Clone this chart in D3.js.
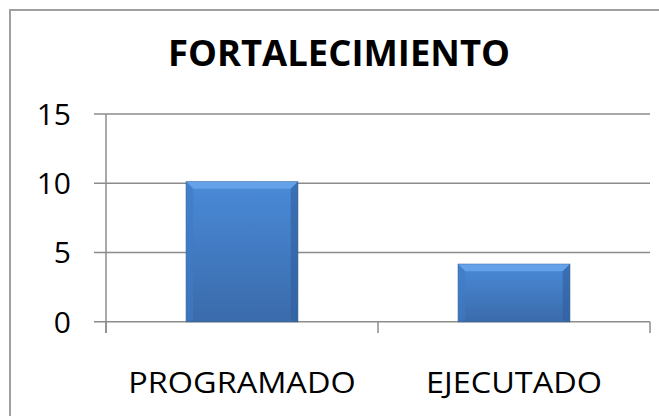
<!DOCTYPE html>
<html>
<head>
<meta charset="utf-8">
<script src="https://cdn.jsdelivr.net/npm/d3@7"></script>
<style>
  body { margin: 0; background: #fff; }
  text { font-family: "Open Sans", sans-serif; fill: #000; }
</style>
</head>
<body>
<svg id="chart" width="659" height="416"></svg>
<script>
// data
var categories = ['PROGRAMADO', 'EJECUTADO'];
var values = [10.1, 4.15];
var yTicks = [0, 5, 10, 15];
var title = 'FORTALECIMIENTO';

var svg = d3.select('#chart');

var x = d3.scaleBand()
  .domain(categories)
  .range([106, 650])
  .paddingInner(0.59)
  .paddingOuter(0.295);

var y = d3.scaleLinear()
  .domain([0, 15])
  .range([321.7, 114]);

// chart border (only top and left visible, rest is cropped)
svg.append('rect')
  .attr('x', 10).attr('y', 10)
  .attr('width', 700).attr('height', 450)
  .attr('fill', 'none')
  .attr('stroke', '#a0a0a0')
  .attr('stroke-width', 2);

// title
svg.append('text')
  .attr('x', 339).attr('y', 66)
  .attr('text-anchor', 'middle')
  .attr('font-size', 36)
  .attr('font-weight', 'bold')
  .attr('textLength', 342)
  .attr('lengthAdjust', 'spacingAndGlyphs')
  .text(title);

// gridlines + y ticks
svg.append('g').selectAll('line')
  .data(yTicks)
  .enter()
  .append('line')
  .attr('x1', 94).attr('x2', 650)
  .attr('y1', d => y(d)).attr('y2', d => y(d))
  .attr('stroke', '#8c8c8c')
  .attr('stroke-width', 1.5);

svg.append('g').selectAll('text')
  .data(yTicks)
  .enter()
  .append('text')
  .attr('x', 71)
  .attr('y', d => y(d) + 11)
  .attr('text-anchor', 'end')
  .attr('font-size', 30)
  .text(d => d);

// y axis line
svg.append('line')
  .attr('x1', 106).attr('x2', 106)
  .attr('y1', y(15)).attr('y2', 333)
  .attr('stroke', '#8c8c8c')
  .attr('stroke-width', 1.5);

// category ticks
var edges = [106].concat(categories.map(c => x(c) + x.bandwidth() / 2 + x.step() / 2));
svg.append('g').selectAll('line')
  .data(edges)
  .enter()
  .append('line')
  .attr('x1', d => d).attr('x2', d => d)
  .attr('y1', y(0)).attr('y2', 333)
  .attr('stroke', '#8c8c8c')
  .attr('stroke-width', 1.5);

// bar gradient
var defs = svg.append('defs');
var grad = defs.append('linearGradient')
  .attr('id', 'barFill')
  .attr('x1', 0).attr('y1', 0).attr('x2', 0).attr('y2', 1);
grad.append('stop').attr('offset', '0%').attr('stop-color', '#4a8ad8');
grad.append('stop').attr('offset', '100%').attr('stop-color', '#3a6bab');

var bars = svg.append('g').selectAll('g')
  .data(values)
  .enter()
  .append('g');

bars.append('rect')
  .attr('x', (d, i) => x(categories[i]))
  .attr('y', d => y(d))
  .attr('width', x.bandwidth())
  .attr('height', d => y(0) - y(d))
  .attr('fill', 'url(#barFill)')
  .attr('stroke', '#3a659c')
  .attr('stroke-width', 1);

// bevel: light top edge, darker sides
var bev = 7;
bars.append('polygon')
  .attr('points', function(d, i) {
    var x0 = x(categories[i]), x1 = x0 + x.bandwidth(), t = y(d);
    return [[x0, t], [x1, t], [x1 - bev, t + bev], [x0 + bev, t + bev]].join(' ');
  })
  .attr('fill', '#6aa6ec')
  .attr('opacity', 0.85);

bars.append('polygon')
  .attr('points', function(d, i) {
    var x0 = x(categories[i]), t = y(d), b = y(0);
    return [[x0, t], [x0 + bev, t + bev], [x0 + bev, b - 2], [x0, b]].join(' ');
  })
  .attr('fill', '#3f7cc6')
  .attr('opacity', 0.6);

bars.append('polygon')
  .attr('points', function(d, i) {
    var x1 = x(categories[i]) + x.bandwidth(), t = y(d), b = y(0);
    return [[x1, t], [x1 - bev, t + bev], [x1 - bev, b - 2], [x1, b]].join(' ');
  })
  .attr('fill', '#2f5f9c')
  .attr('opacity', 0.6);

// category labels, stretched a little to match the wider original face
var labels = svg.append('g').selectAll('text')
  .data(categories)
  .enter()
  .append('text')
  .attr('x', d => x(d) + x.bandwidth() / 2)
  .attr('y', 393)
  .attr('text-anchor', 'middle')
  .attr('font-size', 29)
  .text(d => d);

var stretch = 176 / labels.nodes()[1].getComputedTextLength();
labels
  .attr('textLength', function() { return this.getComputedTextLength() * stretch; })
  .attr('lengthAdjust', 'spacingAndGlyphs');
</script>
</body>
</html>
